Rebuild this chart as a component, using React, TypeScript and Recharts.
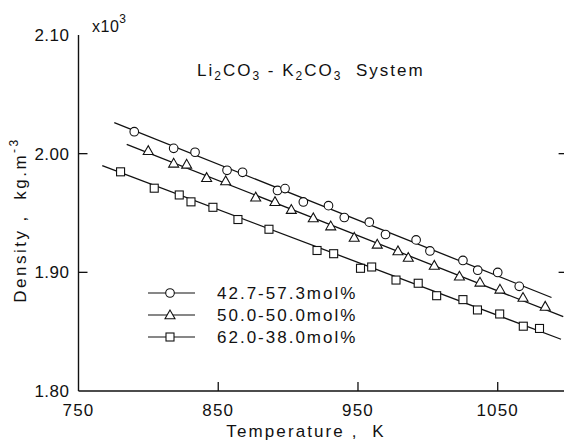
import React from 'react';
import { ComposedChart, Line, Scatter, XAxis, YAxis } from 'recharts';

// Series 1: 42.7-57.3 mol% (circles)
const tempA = [789.9, 818.1, 833.4, 856.3, 867.4, 892.4, 897.8, 910.9, 928.9, 940.2, 958.1, 969.7, 991.6, 1001.5, 1025.1, 1035.7, 1050.0, 1065.4];
const densA = [2.0185, 2.0045, 2.0012, 1.986, 1.9843, 1.969, 1.9706, 1.9593, 1.9562, 1.9462, 1.9423, 1.9319, 1.9273, 1.918, 1.91, 1.9018, 1.8999, 1.8882];
// Series 2: 50.0-50.0 mol% (triangles)
const tempB = [799.9, 818.1, 827.4, 841.7, 855.3, 876.8, 890.6, 902.3, 918.0, 930.5, 947.3, 963.8, 978.6, 986.0, 1004.6, 1022.6, 1037.3, 1051.6, 1068.1, 1084.0];
const densB = [2.0025, 1.9919, 1.991, 1.9798, 1.977, 1.9633, 1.9595, 1.9529, 1.9458, 1.939, 1.9294, 1.9236, 1.918, 1.9125, 1.9058, 1.8967, 1.8916, 1.8857, 1.8788, 1.8713];
// Series 3: 62.0-38.0 mol% (squares)
const tempC = [780.1, 804.2, 822.1, 830.5, 846.2, 864.1, 886.3, 920.7, 932.6, 951.8, 959.8, 977.2, 993.1, 1006.3, 1025.1, 1035.5, 1051.4, 1068.3, 1079.9];
const densC = [1.9847, 1.9709, 1.9652, 1.9594, 1.9548, 1.9445, 1.9363, 1.9184, 1.9157, 1.9034, 1.9045, 1.8935, 1.8908, 1.8803, 1.877, 1.8683, 1.8649, 1.8546, 1.8527];

// Fitted straight lines (end points)
const fitTempA = [775.6, 1088.5];
const fitDensA = [2.0261, 1.8788];
const fitTempB = [784.5, 1096.9];
const fitDensB = [2.0079, 1.8626];
const fitTempC = [767.0, 1095.3];
const fitDensC = [1.9899, 1.8436];

const xTicks = [750, 850, 950, 1050];
const xTopTicks = [850, 950, 1050];
const yTicks = [1.8, 1.9, 2.0, 2.1];
const seriesNames = ['42.7-57.3mol%', '50.0-50.0mol%', '62.0-38.0mol%'];

const toPts = (t: number[], d: number[]) => t.map((T, i) => ({ T, D: d[i] }));

const FONT = '"Liberation Sans", Arial, sans-serif';
const INK = '#111';
const TL = 9;

const BottomTick = (p: any) => {
  const { x, y, payload } = p;
  const v = payload.value;
  return (
    <g>
      {v !== 750 && <line x1={x} y1={y} x2={x} y2={y - TL} stroke={INK} strokeWidth={1.3} />}
      <text x={x} y={y + 25} textAnchor="middle" fontSize={17} fontFamily={FONT} fill={INK} letterSpacing={1.2}>
        {v}
      </text>
    </g>
  );
};

const TopTick = (p: any) => {
  const { x, y } = p;
  return <line x1={x} y1={y} x2={x} y2={y + TL} stroke={INK} strokeWidth={1.3} />;
};

const LeftTick = (p: any) => {
  const { x, y, payload } = p;
  const v = payload.value as number;
  const edge = v === 1.8 || v === 2.1;
  return (
    <g>
      {!edge && <line x1={x} y1={y} x2={x + TL} y2={y} stroke={INK} strokeWidth={1.3} />}
      <text x={x - 9} y={y + 6} textAnchor="end" fontSize={17} fontFamily={FONT} fill={INK} letterSpacing={0.5}>
        {v.toFixed(2)}
      </text>
    </g>
  );
};

const RightTick = (p: any) => {
  const { x, y, payload } = p;
  const v = payload.value as number;
  if (v === 1.8 || v === 2.1) return <g />;
  return <line x1={x} y1={y} x2={x - TL} y2={y} stroke={INK} strokeWidth={1.3} />;
};

const CircleShape = (p: any) => <circle cx={p.cx} cy={p.cy} r={4.3} fill="#fff" stroke={INK} strokeWidth={1.1} />;
const TriShape = (p: any) => (
  <polygon
    points={`${p.cx},${p.cy - 5} ${p.cx - 5},${p.cy + 3.8} ${p.cx + 5},${p.cy + 3.8}`}
    fill="#fff"
    stroke={INK}
    strokeWidth={1.1}
  />
);
const SqShape = (p: any) => <rect x={p.cx - 4} y={p.cy - 4} width={8} height={8} fill="#fff" stroke={INK} strokeWidth={1.1} />;

const legendMarker = (i: number, cx: number, cy: number) => {
  if (i === 0) return <CircleShape cx={cx} cy={cy} />;
  if (i === 1) return <TriShape cx={cx} cy={cy} />;
  return <SqShape cx={cx} cy={cy} />;
};

export default function App() {
  const plotLeft = 78.5;
  const plotWidth = 489.1;
  const rightW = 20;
  const W = plotLeft + plotWidth + rightW;
  const H = 440;

  return (
    <div style={{ position: 'fixed', left: 0, top: 0, width: 564, height: 440, overflow: 'hidden', background: '#fff' }}>
      <ComposedChart width={W} height={H} margin={{ top: 35, right: 0, bottom: 0, left: 0 }}>
        <XAxis
          xAxisId={0}
          dataKey="T"
          type="number"
          domain={[750, 1100]}
          ticks={xTicks}
          height={49}
          tickSize={0}
          tickMargin={0}
          tickLine={false}
          axisLine={{ stroke: INK, strokeWidth: 1.4 }}
          tick={BottomTick}
          allowDataOverflow
        />
        <XAxis
          xAxisId="top"
          orientation="top"
          dataKey="T"
          type="number"
          domain={[750, 1100]}
          ticks={xTopTicks}
          height={0}
          tickSize={0}
          tickMargin={0}
          tickLine={false}
          axisLine={{ stroke: INK, strokeWidth: 1.4 }}
          tick={TopTick}
          allowDataOverflow
        />
        <YAxis
          yAxisId={0}
          dataKey="D"
          type="number"
          domain={[1.8, 2.1]}
          ticks={yTicks}
          width={plotLeft}
          tickSize={0}
          tickMargin={0}
          tickLine={false}
          axisLine={{ stroke: INK, strokeWidth: 1.4 }}
          tick={LeftTick}
          allowDataOverflow
        />
        <YAxis
          yAxisId="right"
          orientation="right"
          dataKey="D"
          type="number"
          domain={[1.8, 2.1]}
          ticks={yTicks}
          width={rightW}
          tickSize={0}
          tickMargin={0}
          tickLine={false}
          axisLine={{ stroke: INK, strokeWidth: 1.4 }}
          tick={RightTick}
          allowDataOverflow
        />
        <Line data={toPts(fitTempA, fitDensA)} dataKey="D" type="linear" stroke={INK} strokeWidth={1.3} dot={false} activeDot={false} isAnimationActive={false} legendType="none" />
        <Line data={toPts(fitTempB, fitDensB)} dataKey="D" type="linear" stroke={INK} strokeWidth={1.3} dot={false} activeDot={false} isAnimationActive={false} legendType="none" />
        <Line data={toPts(fitTempC, fitDensC)} dataKey="D" type="linear" stroke={INK} strokeWidth={1.3} dot={false} activeDot={false} isAnimationActive={false} legendType="none" />
        <Scatter name={seriesNames[0]} data={toPts(tempA, densA)} dataKey="D" shape={CircleShape} isAnimationActive={false} />
        <Scatter name={seriesNames[1]} data={toPts(tempB, densB)} dataKey="D" shape={TriShape} isAnimationActive={false} />
        <Scatter name={seriesNames[2]} data={toPts(tempC, densC)} dataKey="D" shape={SqShape} isAnimationActive={false} />
      </ComposedChart>

      <svg width={564} height={440} style={{ position: 'absolute', left: 0, top: 0, pointerEvents: 'none' }}>
        <g fontFamily={FONT} fill={INK}>
          {/* x10^3 multiplier */}
          <text x={92} y={32} fontSize={16} letterSpacing={0.5}>
            x10
            <tspan fontSize={12} dy={-9}>3</tspan>
          </text>
          {/* Title */}
          <text x={197} y={76} fontSize={17} letterSpacing={2}>
            Li<tspan fontSize={12} dy={4}>2</tspan>
            <tspan dy={-4}>CO</tspan>
            <tspan fontSize={12} dy={4}>3</tspan>
            <tspan dy={-4}> - K</tspan>
            <tspan fontSize={12} dy={4}>2</tspan>
            <tspan dy={-4}>CO</tspan>
            <tspan fontSize={12} dy={4}>3</tspan>
            <tspan dy={-4}>{'\u00a0\u00a0System'}</tspan>
          </text>
          {/* Axis titles */}
          <text x={306} y={437} fontSize={17} textAnchor="middle" letterSpacing={2.1}>
            {'Temperature ,\u00a0\u00a0K'}
          </text>
          <text transform="translate(26,220) rotate(-90)" fontSize={17} textAnchor="middle" letterSpacing={2.5}>
            {'Density ,\u00a0\u00a0kg.m'}
            <tspan fontSize={12} dy={-8}>-3</tspan>
          </text>
          {/* Legend */}
          {seriesNames.map((n, i) => {
            const cy = 293 + i * 22;
            return (
              <g key={n}>
                <line x1={148} y1={cy} x2={195} y2={cy} stroke={INK} strokeWidth={1.2} />
                {legendMarker(i, 170, cy)}
                <text x={217} y={cy + 6} fontSize={17} letterSpacing={2}>
                  {n}
                </text>
              </g>
            );
          })}
        </g>
      </svg>
    </div>
  );
}
